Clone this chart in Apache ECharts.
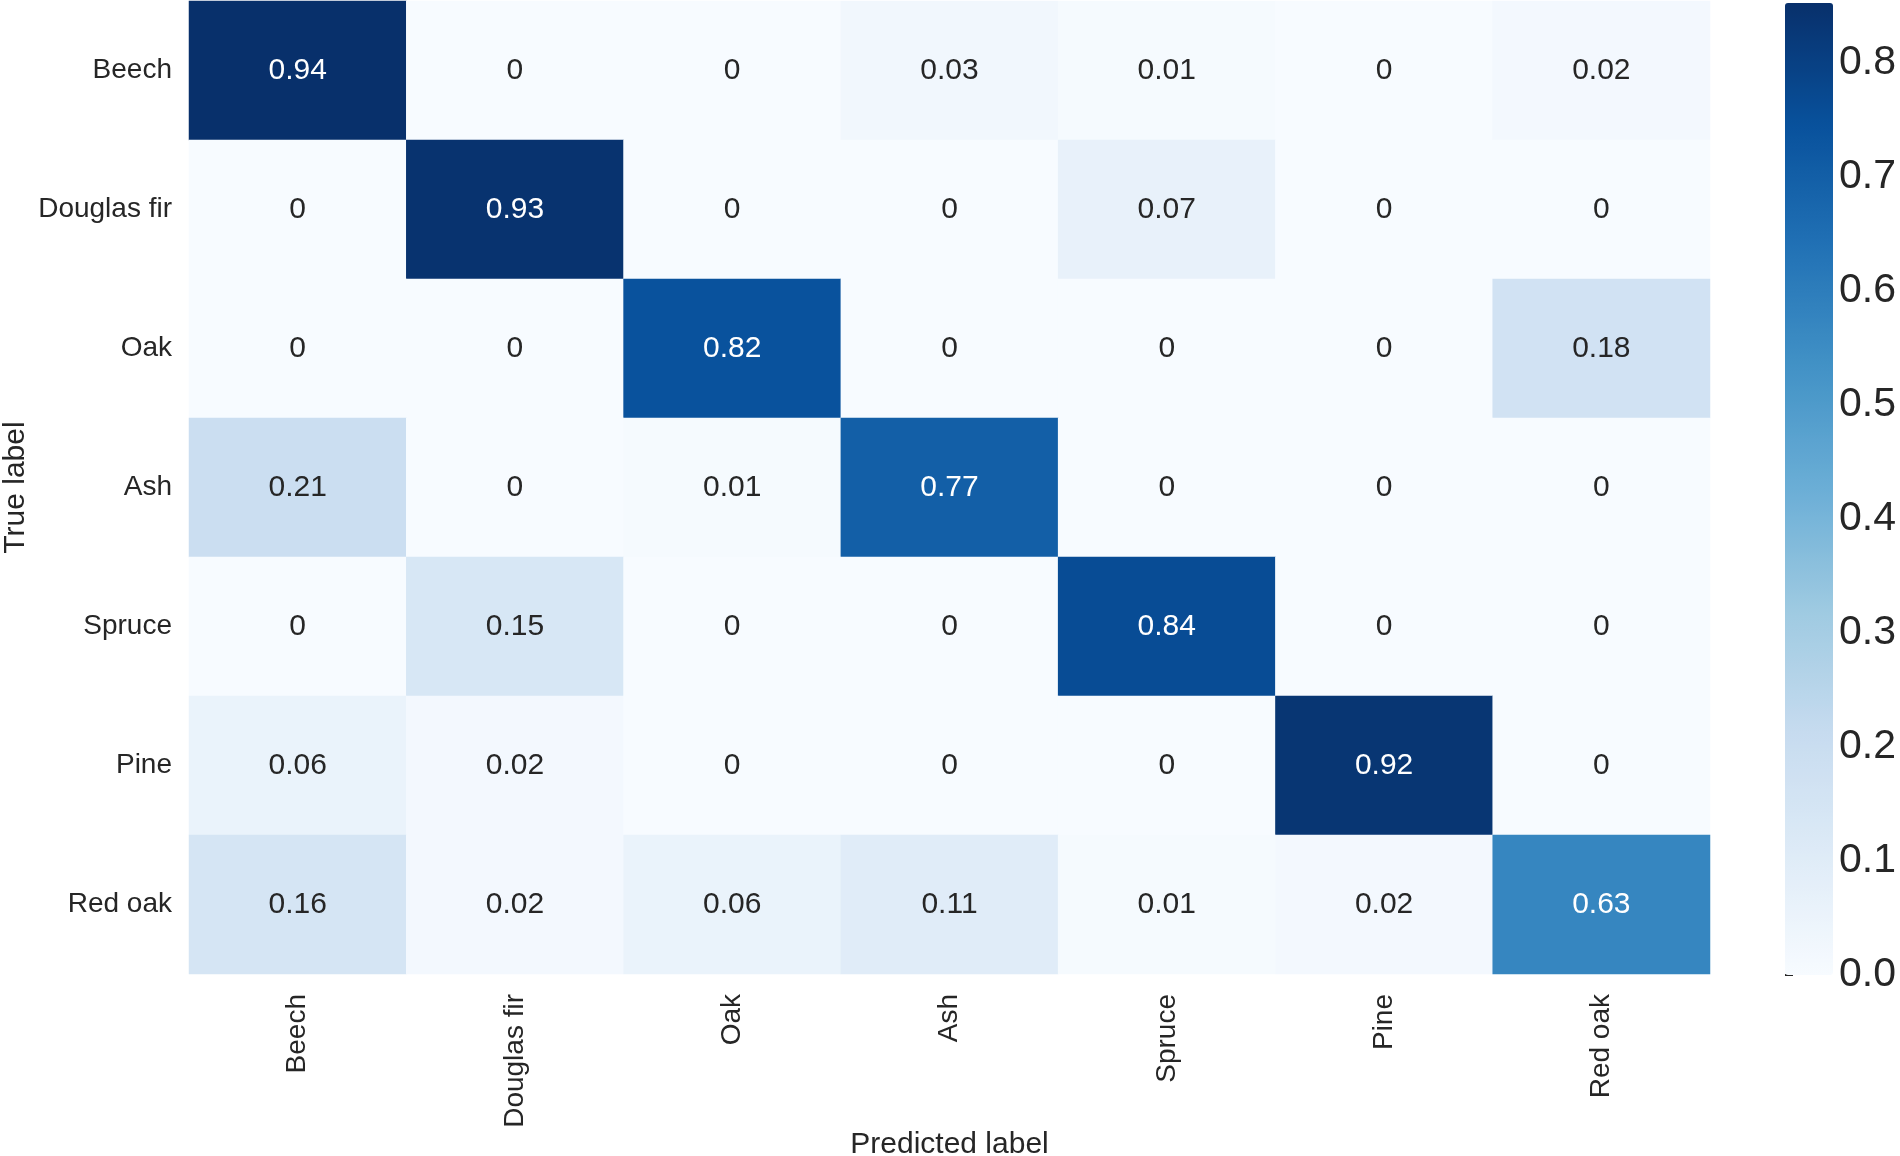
<!DOCTYPE html>
<html>
<head>
<meta charset="utf-8">
<title>Confusion matrix</title>
<script src="https://cdn.jsdelivr.net/npm/echarts@6/dist/echarts.min.js"></script>
<style>
  html, body { margin: 0; padding: 0; background: #fff; }
  #chart { width: 1900px; height: 1156px; }
</style>
</head>
<body>
<div id="chart"></div>
<script>
// predicted (columns) and true (rows) labels
var predictedLabels = ['Beech', 'Douglas fir', 'Oak', 'Ash', 'Spruce', 'Pine', 'Red oak'];
var trueLabels = ['Beech', 'Douglas fir', 'Oak', 'Ash', 'Spruce', 'Pine', 'Red oak'];

// one row per true label
var rowBeech      = [0.94, 0,    0,    0.03, 0.01, 0,    0.02];
var rowDouglasFir = [0,    0.93, 0,    0,    0.07, 0,    0];
var rowOak        = [0,    0,    0.82, 0,    0,    0,    0.18];
var rowAsh        = [0.21, 0,    0.01, 0.77, 0,    0,    0];
var rowSpruce     = [0,    0.15, 0,    0,    0.84, 0,    0];
var rowPine       = [0.06, 0.02, 0,    0,    0,    0.92, 0];
var rowRedOak     = [0.16, 0.02, 0.06, 0.11, 0.01, 0.02, 0.63];

// colour scale of the cells and of the colour bar
var cellMax = 0.94;
var colorbarMax = 0.852;
var colorbarTicks = [0, 0.1, 0.2, 0.3, 0.4, 0.5, 0.6, 0.7, 0.8];

var rows = [rowBeech, rowDouglasFir, rowOak, rowAsh, rowSpruce, rowPine, rowRedOak];
var blues = ['#f7fbff', '#deebf7', '#c6dbef', '#9ecae1', '#6baed6',
             '#4292c6', '#2171b5', '#08519c', '#08306b'];
var textColor = '#262626';
var font = '"Liberation Sans", Arial, sans-serif';

var cells = [];
for (var r = 0; r < rows.length; r++) {
    for (var c = 0; c < rows[r].length; c++) {
        var v = rows[r][c];
        cells.push({
            value: [c, r, v],
            label: { color: v > 0.5 ? '#ffffff' : textColor }
        });
    }
}

var option = {
    animation: false,
    backgroundColor: '#ffffff',
    textStyle: { fontFamily: font },
    grid: [
        { left: 189, top: 1, width: 1521, height: 973, containLabel: false, outerBoundsMode: 'none' },
        { left: 1785, top: 3, width: 48, height: 972, containLabel: false, outerBoundsMode: 'none' }
    ],
    xAxis: [{
        gridIndex: 0,
        type: 'category',
        data: predictedLabels,
        position: 'bottom',
        axisLine: { show: false },
        axisTick: { show: false },
        splitLine: { show: false },
        axisLabel: { rotate: 90, fontSize: 28, color: textColor, margin: 20, fontFamily: font },
        name: 'Predicted label',
        nameLocation: 'middle',
        nameGap: 156,
        nameMoveOverlap: false,
        nameTextStyle: { fontSize: 30, color: textColor, fontFamily: font }
    }, {
        gridIndex: 1,
        type: 'value',
        show: false
    }],
    yAxis: [{
        gridIndex: 0,
        type: 'category',
        data: trueLabels,
        inverse: true,
        axisLine: { show: false },
        axisTick: { show: false },
        splitLine: { show: false },
        axisLabel: { fontSize: 28, color: textColor, margin: 17, fontFamily: font },
        name: 'True label',
        nameLocation: 'middle',
        nameRotate: 90,
        nameGap: 158,
        nameMoveOverlap: false,
        nameTextStyle: { fontSize: 30, color: textColor, fontFamily: font }
    }, {
        gridIndex: 1,
        type: 'value',
        position: 'right',
        min: 0,
        max: colorbarMax,
        axisLine: { show: false },
        splitLine: { show: false },
        axisTick: {
            show: true, length: 8, customValues: colorbarTicks,
            lineStyle: { color: textColor, width: 2 }
        },
        axisLabel: {
            show: true, fontSize: 41, color: textColor, margin: 6, fontFamily: font,
            customValues: colorbarTicks,
            formatter: function (v) { return v.toFixed(1); }
        }
    }],
    visualMap: [{
        // colours of the matrix cells
        type: 'continuous',
        seriesIndex: 0,
        min: 0,
        max: cellMax,
        show: false,
        inRange: { color: blues }
    }, {
        // the colour bar on the right
        type: 'continuous',
        seriesIndex: 1,
        min: 0,
        max: colorbarMax,
        calculable: false,
        hoverLink: false,
        show: true,
        orient: 'vertical',
        left: 1785,
        top: 3,
        itemWidth: 48,
        itemHeight: 972,
        padding: 0,
        text: null,
        showLabel: false,
        indicatorIcon: 'none',
        handleIcon: 'none',
        indicatorSize: 0,
        inRange: { color: blues },
        outOfRange: { color: 'rgba(0,0,0,0)' }
    }],
    series: [{
        type: 'heatmap',
        xAxisIndex: 0,
        yAxisIndex: 0,
        data: cells,
        label: {
            show: true,
            fontSize: 30,
            fontFamily: font,
            formatter: function (p) { return String(p.value[2]); }
        },
        emphasis: { disabled: true }
    }, {
        type: 'scatter',
        xAxisIndex: 1,
        yAxisIndex: 1,
        data: [],
        silent: true
    }]
};

var myChart = echarts.init(document.getElementById('chart'));
myChart.setOption(option);
</script>
</body>
</html>
